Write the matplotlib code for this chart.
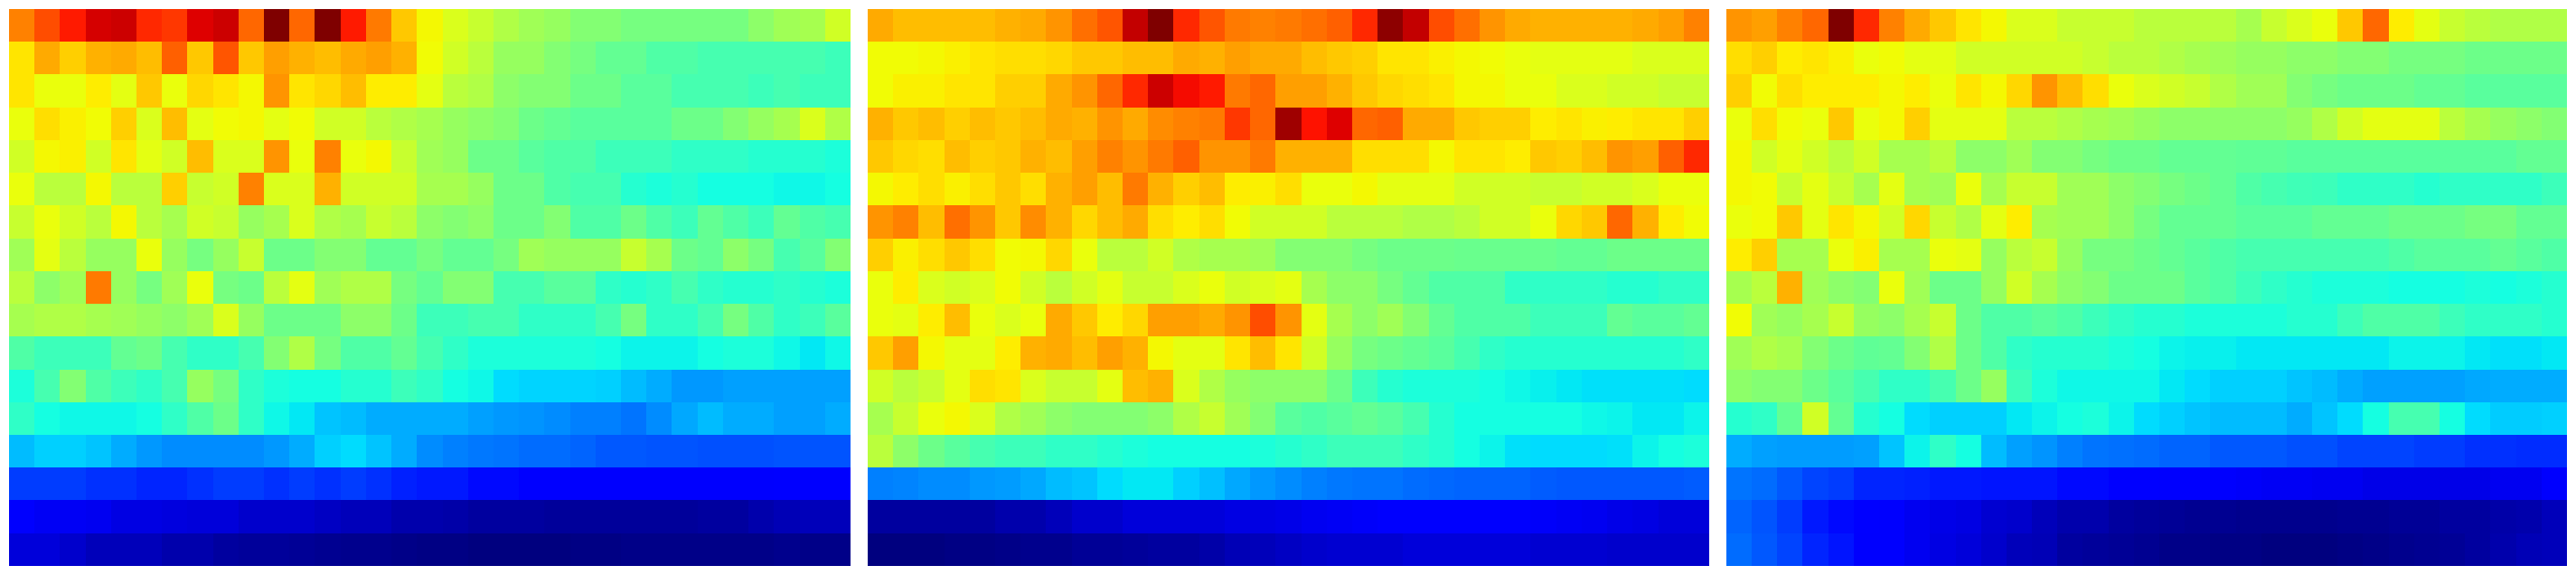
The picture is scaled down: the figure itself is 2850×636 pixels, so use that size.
import matplotlib
matplotlib.use("Agg")
import matplotlib.pyplot as plt
import numpy as np

left_panel = [
    [79, 85, 88, 94, 95, 87, 86, 93, 95, 82, 100, 82, 100, 88, 80, 72, 65, 61, 59, 57, 55, 54, 52, 52, 51, 51, 51, 51, 51, 53, 55, 56, 60],
    [68, 75, 71, 74, 75, 73, 83, 72, 84, 72, 76, 74, 73, 75, 76, 74, 64, 60, 58, 54, 54, 52, 51, 49, 49, 47, 47, 46, 46, 46, 46, 46, 45],
    [68, 63, 63, 67, 62, 72, 63, 70, 68, 65, 77, 68, 70, 73, 67, 67, 62, 58, 57, 53, 52, 52, 50, 50, 48, 48, 46, 46, 46, 45, 46, 45, 45],
    [63, 69, 66, 64, 71, 61, 73, 62, 64, 65, 62, 64, 60, 60, 58, 57, 56, 54, 53, 52, 50, 49, 48, 48, 48, 48, 50, 50, 52, 54, 56, 61, 57],
    [60, 65, 66, 60, 68, 62, 60, 73, 61, 61, 77, 63, 79, 63, 65, 59, 55, 54, 50, 50, 48, 47, 47, 45, 45, 45, 44, 44, 44, 43, 43, 43, 42],
    [63, 58, 58, 65, 58, 58, 71, 59, 60, 79, 61, 61, 74, 60, 60, 60, 56, 56, 54, 50, 50, 47, 46, 46, 43, 42, 43, 41, 41, 41, 40, 40, 41],
    [59, 63, 60, 58, 65, 58, 56, 60, 59, 54, 56, 61, 57, 56, 59, 58, 53, 52, 53, 50, 50, 52, 47, 47, 50, 47, 45, 49, 47, 45, 49, 47, 46],
    [55, 62, 58, 54, 54, 63, 54, 51, 54, 59, 50, 50, 52, 52, 49, 49, 51, 49, 49, 51, 55, 54, 54, 54, 59, 56, 50, 49, 53, 51, 46, 48, 52],
    [58, 53, 55, 80, 54, 51, 55, 63, 51, 50, 58, 62, 55, 57, 57, 51, 49, 52, 52, 46, 46, 48, 48, 44, 43, 44, 46, 44, 43, 43, 44, 43, 42],
    [56, 57, 57, 56, 55, 54, 53, 55, 61, 54, 50, 50, 50, 53, 53, 50, 45, 45, 46, 46, 44, 44, 44, 46, 51, 44, 44, 46, 51, 47, 44, 45, 48],
    [47, 45, 45, 45, 49, 50, 46, 44, 44, 46, 52, 57, 51, 47, 47, 49, 46, 44, 42, 42, 42, 42, 42, 41, 39, 39, 39, 41, 42, 42, 40, 38, 40],
    [42, 46, 52, 47, 45, 44, 46, 54, 51, 44, 42, 41, 41, 43, 43, 45, 44, 41, 40, 37, 36.5, 36.5, 36.5, 36, 34, 33, 31, 31, 32, 32, 32, 32, 32],
    [44, 41, 40, 40, 40, 41, 44, 47, 50, 44, 40, 38, 35, 34, 33, 33, 33, 33, 32, 31, 30.5, 30, 29, 29, 28, 30, 32.5, 34, 33, 33, 32, 32, 33],
    [34, 36, 36, 35, 33, 31, 30, 30, 30, 30, 31, 33, 36, 37, 35, 33, 30, 29, 28.5, 28, 27, 27, 26, 25, 25, 24.5, 24.5, 24, 24, 24, 24.5, 24.5, 24.5],
    [22, 22, 22, 21, 21, 20, 20, 21, 22, 22, 21, 22, 21, 22, 21, 19, 18, 18, 16, 16, 15, 15, 13, 13, 13, 13, 13, 13, 13, 13, 14, 13, 13],
    [13, 12, 12, 11, 9, 9, 8.5, 8, 8, 7, 7, 7, 6.5, 6, 6, 5, 5, 4.5, 4, 4, 4, 3.5, 3.5, 3.5, 3.5, 3.5, 3.5, 4, 4, 5, 5.5, 6, 6],
    [8, 8, 7, 6, 6, 6, 5, 5, 4, 3.5, 3.5, 3, 2.5, 2, 2, 1.5, 1, 1, 0.5, 0.5, 0.5, 0.5, 1, 1, 1.5, 1.5, 1.5, 1.5, 1.5, 1.5, 2, 1.5, 1.5],
]

middle_panel = [
    [75, 73, 73, 73, 73, 74, 75, 77, 81, 84, 96, 100, 87, 84, 80, 79, 80, 81, 83, 87, 99, 96, 85, 81, 77, 75, 74, 74, 74, 74, 75, 76, 79],
    [64, 64, 65, 66, 68, 69, 69, 70, 72, 72, 73, 73, 75, 74, 76, 75, 75, 73, 72, 71, 68, 68, 66, 65, 64, 63, 62, 62, 62, 62, 61, 61, 61],
    [64, 66, 66, 68, 68, 71, 71, 75, 77, 82, 87, 95, 90, 88, 80, 82, 76, 76, 74, 72, 70, 69, 68, 65, 65, 63, 63, 61, 61, 60, 60, 59, 59],
    [74, 72, 73, 71, 73, 72, 73, 75, 74, 77, 75, 78, 79, 80, 86, 82, 98, 89, 93, 82, 83, 75, 75, 72, 71, 71, 67, 68, 66, 67, 68, 68, 71],
    [72, 70, 69, 73, 71, 72, 74, 73, 76, 79, 77, 80, 83, 77, 77, 80, 74, 74, 74, 69, 69, 69, 65, 68, 68, 67, 72, 71, 73, 77, 76, 83, 87],
    [65, 67, 69, 66, 69, 72, 69, 74, 76, 73, 80, 74, 71, 73, 67, 66, 69, 63, 63, 65, 62, 62, 62, 60, 60, 60, 59, 59, 60, 60, 61, 63, 63],
    [77, 79, 73, 81, 77, 72, 78, 74, 70, 73, 75, 69, 67, 69, 64, 60, 60, 60, 58, 58, 58, 57, 57, 58, 60, 60, 63, 70, 72, 82, 74, 67, 64],
    [71, 66, 69, 72, 69, 64, 65, 70, 63, 58, 58, 60, 57, 56, 56, 55, 52, 52, 52, 51, 50, 50, 50, 49.5, 49.5, 49.5, 49.5, 49, 49, 50, 50, 50, 50],
    [63, 67, 61, 60, 61, 64, 60, 58, 60, 62, 59, 59, 61, 63, 60, 61, 62, 56, 53, 53, 51, 49, 47, 47, 47, 44, 44, 44, 44, 43, 43, 44, 44],
    [63, 62, 67, 73, 63, 61, 63, 75, 72, 67, 70, 76, 76, 75, 77, 85, 77, 62, 56, 53, 55, 52, 49, 47, 47, 47, 45, 45, 45, 49, 48, 48, 49],
    [72, 76, 65, 62, 62, 67, 74, 75, 73, 76, 74, 65, 62, 62, 68, 73, 68, 60, 54, 51, 50, 49, 48, 46, 44, 43, 43, 43, 43, 43, 43, 43, 44],
    [60, 58, 59, 62, 69, 68, 61, 59, 59, 62, 73, 74, 61, 57, 54, 53, 53, 53, 50, 45, 43, 42, 42, 42, 41, 40, 38.5, 38, 37.5, 37.5, 37.5, 37.5, 37],
    [56, 59, 63, 65, 61, 57, 55, 53, 52, 52, 52, 53, 57, 59, 55, 52, 48, 47, 48, 49, 48, 46, 43, 41, 41, 41, 41, 41, 40, 39, 38, 38, 39],
    [58, 53, 50, 48, 46, 45, 45, 44, 44, 43, 42, 41, 41, 41, 41, 42, 43, 44, 45, 45, 45, 44, 43, 41, 39, 37.5, 37, 37, 37, 37.5, 39, 41, 42],
    [29, 29.5, 30, 30, 31, 31.5, 32.5, 34, 35, 37, 38, 38, 36, 34.5, 32.5, 31, 30, 29, 28.5, 28, 28, 27, 26.5, 26, 26, 26, 25.5, 25, 25, 25, 25, 25, 25.5],
    [4, 4, 4, 4, 4, 5, 5, 6, 7, 7, 8, 8, 8, 8, 9, 9, 10, 11, 12, 12.5, 13, 13, 13, 13, 13, 13, 12.5, 12, 11, 10, 9, 8, 8],
    [0.5, 0.5, 0.5, 1, 1, 1.5, 2, 2, 3, 3, 3.5, 4, 4, 4.5, 5.5, 6, 6.5, 7, 7.5, 7.5, 7.5, 8, 8, 8, 8, 8, 7.5, 7.5, 7.5, 7, 7, 7, 7],
]

right_panel = [
    [77, 76, 79, 82, 100, 87, 79, 75, 72, 68, 65, 61, 61, 59, 59, 59, 58, 58, 58, 58, 56, 59, 61, 63, 72, 82, 67, 62, 59, 58, 57, 57, 57],
    [69, 71, 67, 68, 66, 63, 64, 62, 62, 60, 60, 60, 60, 60, 59, 58, 58, 57, 56, 55, 54, 54, 53, 53, 52, 52, 51, 51, 51, 50, 50, 50, 50],
    [71, 64, 69, 67, 67, 67, 65, 67, 63, 68, 65, 70, 77, 73, 69, 63, 61, 60, 59, 57, 55, 55, 52, 51, 50, 50, 50, 49, 49, 48, 48, 48, 48],
    [63, 69, 64, 63, 72, 63, 65, 71, 62, 62, 62, 58, 58, 57, 56, 55, 54, 53, 53, 53, 53, 53, 54, 57, 60, 62, 62, 62, 58, 56, 54, 53, 52],
    [65, 60, 62, 60, 58, 60, 56, 56, 58, 53, 53, 55, 52, 52, 51, 50, 50, 49, 49, 49, 48.5, 48.5, 48, 48, 48, 48, 48, 48, 48, 48, 48, 49, 49],
    [65, 64, 59, 62, 59, 56, 62, 56, 55, 63, 56, 59, 59, 55, 55, 53, 52, 51, 50, 49, 47, 46, 45.5, 45, 44, 44, 44, 43, 44, 44, 44, 44, 45],
    [63, 64, 72, 62, 68, 65, 60, 70, 59, 57, 62, 67, 56, 55, 55, 53, 51, 49, 49, 49, 48, 48, 48, 49, 49, 49, 50, 50, 50, 51, 51, 49, 49],
    [67, 71, 56, 56, 63, 66, 56, 56, 63, 62, 54, 58, 59, 54, 51, 51, 50, 49, 48, 47, 46, 46, 46, 46, 46, 46, 47, 48, 48, 48, 49, 48, 47],
    [56, 58, 74, 55, 53, 52, 63, 55, 50, 50, 54, 60, 56, 53, 52, 50, 50, 50, 48, 47, 45, 44, 43, 42, 42, 42, 41, 41, 41, 42, 41, 42, 43],
    [64, 55, 54, 56, 59, 54, 53, 56, 59, 50, 47, 47, 48, 47, 45, 44, 43, 43, 42, 42, 42, 42, 43, 43, 45, 47, 47, 47, 45, 44, 44, 44, 43],
    [55, 57, 56, 52, 50, 48.5, 49, 52, 57, 50, 47, 44, 43, 43, 43, 42, 41, 39, 38.5, 38.5, 38, 38, 38, 38, 38, 38, 39.5, 39.5, 39, 38, 37.5, 37.5, 38],
    [53, 52, 52, 50, 48, 46, 44, 44, 46, 50, 54, 45, 42, 40, 40, 40, 40, 38, 37, 36, 36, 36, 35, 34, 33, 32, 32, 32, 32, 32.5, 33, 33, 33],
    [43, 44, 49, 60, 49, 43, 41, 37, 36, 36, 36, 38, 39, 41, 42, 39, 37, 36, 35, 34, 34, 34, 33, 35, 37, 41, 46, 46, 41, 37, 35.5, 35.5, 36],
    [33, 32, 31.5, 31.5, 31.5, 32, 35, 39, 44, 41, 34, 32, 30.5, 29, 28, 27.5, 27, 26, 26, 25, 25, 25, 24, 24, 23, 23, 23, 22, 22, 21, 21, 20.5, 20.5],
    [28, 27, 25, 23, 22, 20, 20, 19, 18, 18, 17, 17, 17, 16, 16, 15, 14, 13, 13, 13, 12.5, 12, 12, 11, 11, 10, 10, 10, 10, 10, 11, 11, 13],
    [26, 24.5, 22, 18, 16, 14, 13, 11, 10, 9, 7.5, 7, 6, 5, 5, 4, 3.5, 3, 2.5, 2.5, 2, 2, 2, 2, 2.5, 2.5, 3, 3, 4, 4, 4.5, 5, 6],
    [27, 25, 23, 20, 17, 13, 13, 11, 9, 8, 7, 6, 5.5, 4, 3.5, 3, 2.5, 1.5, 1.5, 1, 1, 0.5, 0.5, 0.5, 1, 1.5, 2, 2.5, 3, 4, 5, 5.5, 6],
]

# the readings above were taken by eye, this lines them up with where jet really sits
reading_scale = [0, 4, 6, 8, 13, 17, 20, 23, 25, 26.5, 29, 30.5, 32.5, 34, 37, 38.5, 40, 42, 44, 46, 48, 50, 52,
                 55, 57.5, 60, 63, 65.5, 68, 71, 73, 75, 77, 79, 82, 85, 86.5, 88, 96, 100]
jet_scale = [0, .03, .054, .08, .11, .145, .164, .194, .213, .23, .25, .27, .29, .31, .34, .36, .37, .386, .41, .435, .46, .484, .508,
             .545, .569, .605, .636, .65, .666, .688, .71, .73, .75, .77, .80, .825, .86, .88, .94, 1]

panels = [left_panel, middle_panel, right_panel]
panel_lefts = [10, 960, 1910]

fig = plt.figure(figsize=(28.5, 6.36), dpi=100)
for data, x0 in zip(panels, panel_lefts):
    ax = fig.add_axes([x0 / 2850, 10 / 636, 930 / 2850, 616 / 636])
    ax.imshow(np.interp(data, reading_scale, jet_scale), cmap='jet', vmin=0, vmax=1, aspect='auto', interpolation='nearest')
    ax.axis('off')

fig.savefig("out.png", dpi=100)
